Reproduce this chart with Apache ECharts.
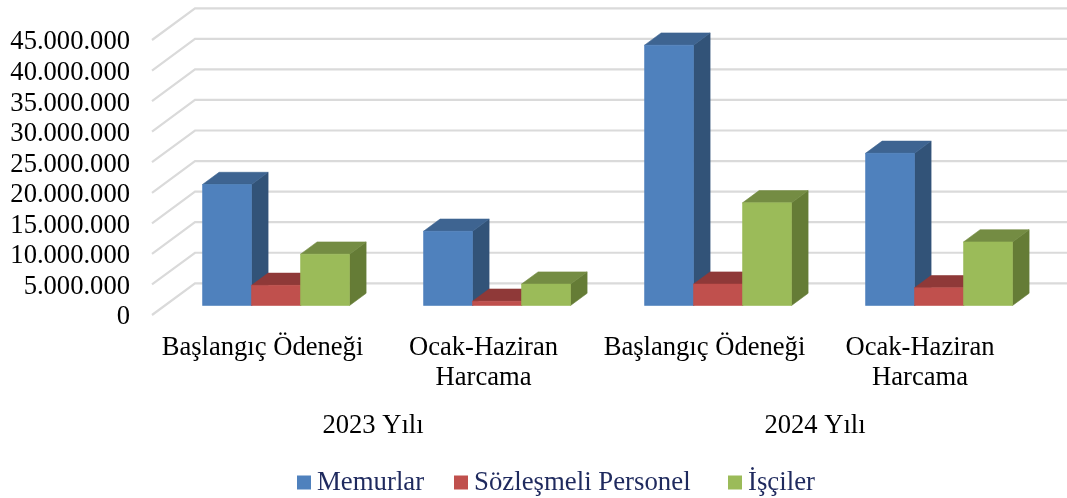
<!DOCTYPE html>
<html><head><meta charset="utf-8">
<style>html,body{margin:0;padding:0;background:#fff}#c{width:1067px;height:498px}</style>
<script src="https://cdn.jsdelivr.net/npm/echarts@6/dist/echarts.min.js"></script></head>
<body><div id="c"></div>
<script>
const categories = ['Başlangıç Ödeneği', 'Ocak-Haziran\nHarcama', 'Başlangıç Ödeneği', 'Ocak-Haziran\nHarcama'];
const years = ['2023 Yılı', '2024 Yılı'];
const seriesNames = ['Memurlar', 'Sözleşmeli Personel', 'İşçiler'];
const memurlar = [19800000, 12150000, 42600000, 24900000];
const sozlesmeli = [3300000, 700000, 3500000, 2900000];
const isciler = [8400000, 3500000, 16800000, 10400000];
const yTicks = [0, 5000000, 10000000, 15000000, 20000000, 25000000, 30000000, 35000000, 40000000, 45000000];
const font = '"Liberation Serif","Times New Roman",serif';
const fs = 26.6;

const palette = [
  {front:'#4F81BD', top:'#3E6491', side:'#325378'},
  {front:'#C0504D', top:'#8F3938', side:'#7F3331'},
  {front:'#9BBB59', top:'#748C43', side:'#657C36'}
];
// box depth (front plane -> back wall) and bar placement inside it
const DX = 43, DY = -31.7, BARFRONT = 0.30, BARDEPTH = 0.385, BARW = 49 / 221;

function poly(points, fill) {
  return {type:'polygon', shape:{points}, style:{fill, stroke:fill, lineWidth:0.6}};
}
function barRender(si) {
  return function (params, api) {
    const c = api.value(0), v = api.value(1);
    const band = api.size([1, 0])[0];
    const w = band * BARW;
    const base = api.coord([c, 0]);
    const top = api.coord([c, v]);
    const ox = DX * 0.315, oy = DY * BARFRONT;
    const dx = DX * BARDEPTH, dy = DY * BARDEPTH;
    const x0 = base[0] + ox + (si - 1.5) * w;
    const x1 = x0 + w;
    const yb = base[1] + oy, yt = top[1] + oy;
    const p = palette[si];
    return {type:'group', children:[
      poly([[x1,yb],[x1+dx,yb+dy],[x1+dx,yt+dy],[x1,yt]], p.side),
      poly([[x0,yt],[x1,yt],[x1+dx,yt+dy],[x0+dx,yt+dy]], p.top),
      poly([[x0,yb],[x1,yb],[x1,yt],[x0,yt]], p.front)
    ]};
  };
}
function wallRender(params, api) {
  const v = api.value(0);
  const a = api.coord([0, v]);
  const band = api.size([1, 0])[0];
  const left = a[0] - band / 2;
  return {type:'polyline', shape:{points:[[left, a[1]],[left+DX, a[1]+DY],[left+DX+band*4, a[1]+DY]]},
    style:{stroke:'#DADADA', lineWidth:2.2, fill:null}};
}
const seriesData = [memurlar, sozlesmeli, isciler];
const legendLeft = [292, 449, 723];
const chart = echarts.init(document.getElementById('c'), null, {renderer:'canvas'});
chart.setOption({
  animation:false,
  backgroundColor:'#fff',
  grid:{left:152, right:31, top:40, bottom:183, containLabel:false},
  legend: seriesNames.map((n,i)=>({
    data:[n], left:legendLeft[i], top:464, icon:'rect', itemWidth:14, itemHeight:14, itemGap:0, selectedMode:false,
    textStyle:{fontFamily:font, fontSize:26.8, color:'#1F2A5E', padding:[2,0,0,1]}
  })),
  xAxis:[
    {type:'category', data:categories, axisLine:{show:false}, axisTick:{show:false}, splitLine:{show:false},
     axisLabel:{interval:0, margin:18, fontFamily:font, fontSize:fs, lineHeight:30, color:'#000',
       formatter:(v,i)=> i===3 ? v.split('\n').map(s=>'{s|'+s+'}').join('\n') : v,
       rich:{s:{fontFamily:font, fontSize:fs, lineHeight:30, color:'#000', padding:[0,11,0,0]}}}},
    {type:'category', data:years, position:'bottom', offset:98, axisLine:{show:false}, axisTick:{show:false}, splitLine:{show:false},
     axisLabel:{interval:0, margin:0, fontFamily:font, fontSize:fs, color:'#000'}}
  ],
  yAxis:{type:'value', min:0, max:45000000, interval:5000000,
    axisLine:{show:false}, axisTick:{show:false}, splitLine:{show:false},
    axisLabel:{margin:22, color:'#000',
      formatter:v=>'{t|'+String(v).replace(/\B(?=(\d{3})+$)/g,'.')+'}',
      rich:{t:{fontFamily:font, fontSize:fs, color:'#000', padding:[5,0,0,0]}}}},
  series:[
    {type:'custom', name:'wall', xAxisIndex:0, clip:false, silent:true, data:yTicks.map(v=>[v]),
     encode:{y:0}, renderItem:wallRender, z:1},
    ...seriesNames.map((n,i)=>({
      type:'custom', name:n, xAxisIndex:0, clip:false,
      itemStyle:{color:palette[i].front},
      data:seriesData[i].map((v,c)=>[c,v]), encode:{x:0,y:1}, renderItem:barRender(i), z:2+i
    }))
  ]
});
</script></body></html>
